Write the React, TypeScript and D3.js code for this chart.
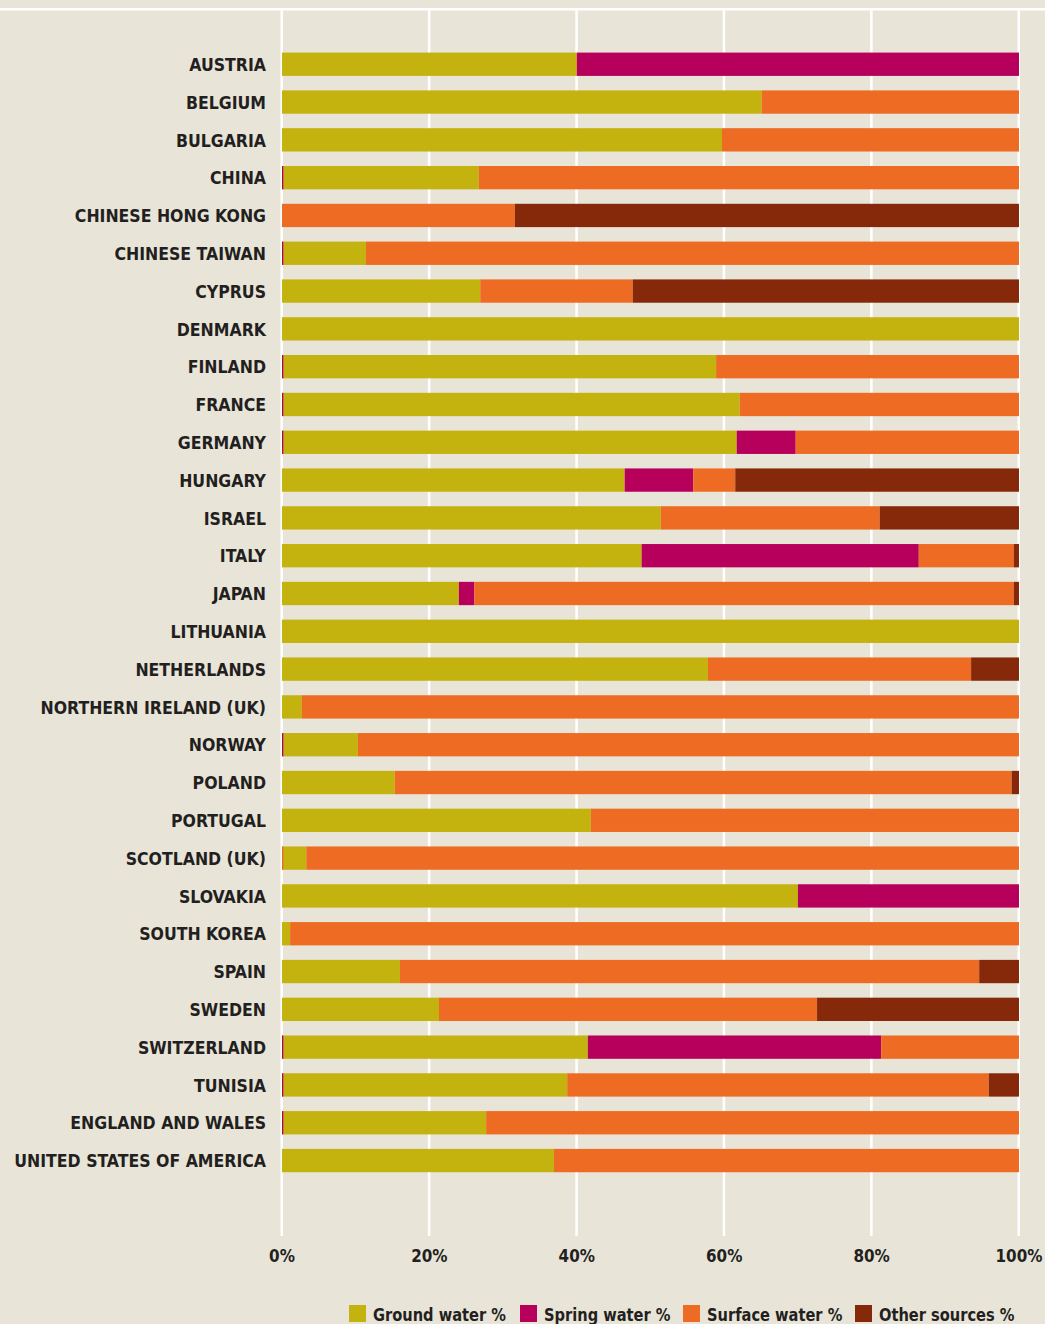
import React, { useEffect, useRef } from 'react';
import * as d3 from 'd3';

const countries = [
  'AUSTRIA', 'BELGIUM', 'BULGARIA', 'CHINA', 'CHINESE HONG KONG', 'CHINESE TAIWAN',
  'CYPRUS', 'DENMARK', 'FINLAND', 'FRANCE', 'GERMANY', 'HUNGARY', 'ISRAEL', 'ITALY',
  'JAPAN', 'LITHUANIA', 'NETHERLANDS', 'NORTHERN IRELAND (UK)', 'NORWAY', 'POLAND',
  'PORTUGAL', 'SCOTLAND (UK)', 'SLOVAKIA', 'SOUTH KOREA', 'SPAIN', 'SWEDEN',
  'SWITZERLAND', 'TUNISIA', 'ENGLAND AND WALES', 'UNITED STATES OF AMERICA',
];

const groundWater = [40, 65.1, 59.7, 26.7, 0, 11.4, 26.9, 100, 58.9, 62.1, 61.7, 46.5, 51.4, 48.8, 24.0, 100, 57.8, 2.7, 10.3, 15.3, 41.9, 3.3, 70.0, 1.1, 16.0, 21.3, 41.5, 38.7, 27.7, 36.9];
const springWater = [60, 0, 0, 0, 0, 0, 0, 0, 0, 0, 8.0, 9.3, 0, 37.6, 2.1, 0, 0, 0, 0, 0, 0, 0, 30.0, 0, 0, 0, 39.8, 0, 0, 0];
const surfaceWater = [0, 34.9, 40.3, 73.3, 31.6, 88.6, 20.7, 0, 41.1, 37.9, 30.3, 5.7, 29.7, 12.9, 73.2, 0, 35.7, 97.3, 89.7, 83.7, 58.1, 96.7, 0, 98.9, 78.6, 51.3, 18.7, 57.2, 72.3, 63.1];
const otherSources = [0, 0, 0, 0, 68.4, 0, 52.4, 0, 0, 0, 0, 38.5, 18.9, 0.7, 0.7, 0, 6.5, 0, 0, 1.0, 0, 0, 0, 0, 5.4, 27.4, 0, 4.1, 0, 0];

// thin marks sitting at the 0% edge of some bars
const edgeMarks = [
  { country: 'CHINA', key: 'spring' },
  { country: 'CHINESE TAIWAN', key: 'spring' },
  { country: 'FINLAND', key: 'spring' },
  { country: 'FRANCE', key: 'spring' },
  { country: 'GERMANY', key: 'spring' },
  { country: 'NORWAY', key: 'spring' },
  { country: 'SCOTLAND (UK)', key: 'surface' },
  { country: 'SWITZERLAND', key: 'spring' },
  { country: 'TUNISIA', key: 'spring' },
  { country: 'ENGLAND AND WALES', key: 'spring' },
];

const seriesKeys = ['ground', 'spring', 'surface', 'other'];
const seriesLabels = ['Ground water %', 'Spring water %', 'Surface water %', 'Other sources %'];
const xTicks = [0, 20, 40, 60, 80, 100];

const colors: Record<string, string> = {
  ground: '#c4b20e',
  spring: '#b6005c',
  surface: '#ee6b23',
  other: '#85290a',
};

const W = 1045;
const H = 1324;
const BG = '#e8e5d8';
const INK = '#231f20';
const FONT = "'DejaVu Sans Condensed', 'DejaVu Sans', sans-serif";

// squeeze text horizontally so a sample string hits a given width (condensed look)
function squeeze(sel: d3.Selection<any, any, any, any>, sample: number, target: number) {
  const node = sel.nodes()[sample] as SVGTextElement;
  const w = node.getComputedTextLength();
  return w > 0 ? target / w : 1;
}

export default function App() {
  const ref = useRef<SVGSVGElement>(null);

  useEffect(() => {
    document.body.style.margin = '0';
    document.body.style.background = BG;
    const svg = d3.select(ref.current);
    svg.selectAll('*').remove();

    const rows = countries.map((c, i) => ({
      country: c,
      ground: groundWater[i],
      spring: springWater[i],
      surface: surfaceWater[i],
      other: otherSources[i],
    }));

    const x = d3.scaleLinear().domain([0, 100]).range([282, 1019]);
    const y = d3.scaleBand().domain(countries).range([45.4, 1179.4]).paddingInner(0.383).paddingOuter(0.19);

    svg.append('rect').attr('width', W).attr('height', H).attr('fill', BG);
    // top rule
    svg.append('rect').attr('x', 0).attr('y', 8).attr('width', W).attr('height', 2.5).attr('fill', '#fff');

    // grid
    svg.append('g').selectAll('rect').data(xTicks).enter().append('rect')
      .attr('x', d => x(d) - 1.5)
      .attr('y', 10)
      .attr('width', 2.5)
      .attr('height', 1226)
      .attr('fill', '#fff');

    const tg = svg.append('g').selectAll('g').data(xTicks).enter().append('g');
    const ticks = tg.append('text')
      .attr('text-anchor', 'middle')
      .attr('font-family', FONT)
      .attr('font-weight', 'bold')
      .attr('font-size', 17)
      .attr('fill', INK)
      .text(d => d + '%');
    const kt = squeeze(ticks, 5, 47);
    tg.attr('transform', d => `translate(${x(d)},1262) scale(${kt},1)`);

    const stack = d3.stack<any>().keys(seriesKeys);
    const layers = stack(rows);

    svg.append('g').selectAll('g').data(layers).enter().append('g')
      .attr('fill', d => colors[d.key])
      .selectAll('rect').data(d => d).enter().append('rect')
      .attr('x', d => x(d[0]))
      .attr('y', d => y(d.data.country)!)
      .attr('width', d => Math.max(0, x(d[1]) - x(d[0])))
      .attr('height', y.bandwidth());

    svg.append('g').selectAll('rect').data(edgeMarks).enter().append('rect')
      .attr('x', x(0))
      .attr('y', d => y(d.country)!)
      .attr('width', 1.3)
      .attr('height', y.bandwidth())
      .attr('fill', d => colors[d.key]);

    const lgr = svg.append('g').selectAll('g').data(countries).enter().append('g');
    const labels = lgr.append('text')
      .attr('dy', '0.36em')
      .attr('text-anchor', 'end')
      .attr('font-family', FONT)
      .attr('font-weight', 'bold')
      .attr('font-size', 18.5)
      .attr('fill', INK)
      .text(d => d);
    const kl = squeeze(labels, countries.length - 1, 252);
    lgr.attr('transform', d => `translate(266,${y(d)! + y.bandwidth() / 2}) scale(${kl},1)`);

    // legend
    const legendX = [349, 520, 683, 855];
    const lg = svg.append('g').selectAll('g').data(seriesKeys).enter().append('g')
      .attr('transform', (d, i) => `translate(${legendX[i]},1305)`);
    lg.append('rect').attr('width', 17).attr('height', 17).attr('fill', d => colors[d]);
    const lt = lg.append('text')
      .attr('font-family', FONT)
      .attr('font-weight', 'bold')
      .attr('font-size', 18)
      .attr('fill', INK)
      .text((d, i) => seriesLabels[i]);
    const kg = squeeze(lt, 0, 133);
    lt.attr('transform', `translate(24,15.5) scale(${kg},1)`);
  }, []);

  return <svg ref={ref} width={W} height={H} style={{ display: 'block' }} />;
}
